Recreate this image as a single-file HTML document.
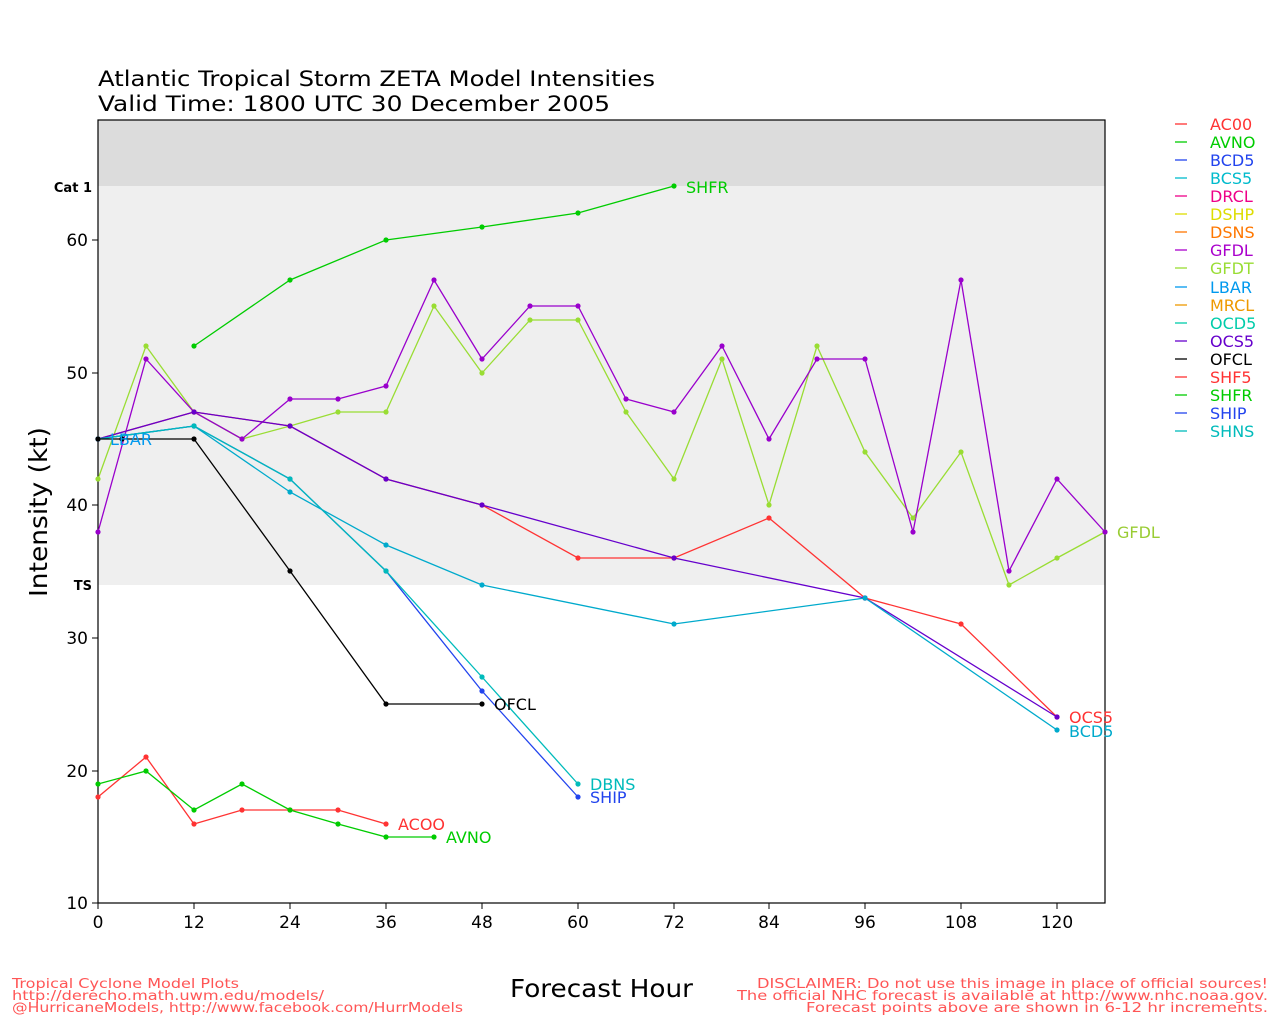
<!DOCTYPE html>
<html><head><style>body{margin:0;background:#fff}svg{display:block;font-family:"DejaVu Sans","Liberation Sans",sans-serif}</style></head><body>
<svg id="s" width="1280" height="1024" xmlns="http://www.w3.org/2000/svg">
<rect x="98" y="120" width="1007" height="783" fill="#efefef"/>
<rect x="98" y="120" width="1007" height="66" fill="#dcdcdc"/>
<rect x="98" y="585" width="1007" height="318" fill="#fff"/>
<rect x="98" y="120" width="1007" height="783" fill="none" stroke="#000" stroke-width="1.2"/>
<text x="98" y="86" font-size="21" textLength="557" lengthAdjust="spacingAndGlyphs">Atlantic Tropical Storm ZETA Model Intensities</text>
<text x="98" y="111" font-size="21" textLength="512" lengthAdjust="spacingAndGlyphs">Valid Time: 1800 UTC 30 December 2005</text>
<g font-size="13" font-weight="bold" text-anchor="end"><text x="92" y="192">Cat 1</text><text x="92" y="590">TS</text></g>
<g font-size="17" text-anchor="end">
<text x="88" y="909">10</text><text x="88" y="777">20</text><text x="88" y="644">30</text><text x="88" y="511">40</text><text x="88" y="379">50</text><text x="88" y="246">60</text></g>
<g stroke="#000"><line x1="92" y1="903" x2="98" y2="903"/><line x1="92" y1="771" x2="98" y2="771"/><line x1="92" y1="638" x2="98" y2="638"/><line x1="92" y1="505" x2="98" y2="505"/><line x1="92" y1="373" x2="98" y2="373"/><line x1="92" y1="240" x2="98" y2="240"/>
<line x1="98" y1="903" x2="98" y2="909"/><line x1="194" y1="903" x2="194" y2="909"/><line x1="290" y1="903" x2="290" y2="909"/><line x1="386" y1="903" x2="386" y2="909"/><line x1="482" y1="903" x2="482" y2="909"/><line x1="578" y1="903" x2="578" y2="909"/><line x1="674" y1="903" x2="674" y2="909"/><line x1="769" y1="903" x2="769" y2="909"/><line x1="865" y1="903" x2="865" y2="909"/><line x1="961" y1="903" x2="961" y2="909"/><line x1="1057" y1="903" x2="1057" y2="909"/></g>
<g font-size="17" text-anchor="middle">
<text x="98" y="928">0</text><text x="194" y="928">12</text><text x="290" y="928">24</text><text x="386" y="928">36</text><text x="482" y="928">48</text><text x="578" y="928">60</text><text x="674" y="928">72</text><text x="769" y="928">84</text><text x="865" y="928">96</text><text x="961" y="928">108</text><text x="1057" y="928">120</text></g>
<text x="510" y="997" font-size="25" textLength="183" lengthAdjust="spacingAndGlyphs">Forecast Hour</text>
<text transform="translate(47,597) rotate(-90)" font-size="25" textLength="170" lengthAdjust="spacingAndGlyphs">Intensity (kt)</text>
<g id="lines" fill="none" stroke-width="1.3">
<polyline stroke="#ff3333" points="98,797 146,757 194,824 242,810 290,810 338,810 386,824"/>
<polyline stroke="#00cc00" points="98,784 146,771 194,810 242,784 290,810 338,824 386,837 434,837"/>
<polyline stroke="#00cc00" points="194,346 290,280 386,240 482,227 578,213 674,186"/>
<polyline stroke="#99dd33" points="98,479 146,346 194,412 242,439 290,426 338,412 386,412 434,306 482,373 530,320 578,320 626,412 674,479 722,359 769,505 817,346 865,452 913,518 961,452 1009,585 1057,558 1105,532"/>
<polyline stroke="#9900cc" points="98,532 146,359 194,412 242,439 290,399 338,399 386,386 434,280 482,359 530,306 578,306 626,399 674,412 722,346 769,439 817,359 865,359 913,532 961,280 1009,571 1057,479 1105,532"/>
<polyline stroke="#ff3333" points="98,439 194,412 290,426 386,479 482,505 578,558 674,558 769,518 865,598 961,624 1057,717"/>
<polyline stroke="#6600cc" points="98,439 194,412 290,426 386,479 482,505 674,558 865,598 1057,717"/>
<polyline stroke="#00aacc" points="98,439 194,426 290,492 386,545 482,585 674,624 865,598 1057,730"/>
<polyline stroke="#2244ee" points="98,439 194,426 290,479 386,571 482,691 578,797"/>
<polyline stroke="#00bbbb" points="98,439 194,426 290,479 386,571 482,677 578,784"/>
<polyline stroke="#000" points="98,439 122,439 194,439 290,571 386,704 482,704"/>
</g>
<g id="dots"></g>
<g font-size="16">
<text x="398" y="830" fill="#ff3333">ACOO</text>
<text x="446" y="843" fill="#00cc00">AVNO</text>
<text x="686" y="193" fill="#00cc00">SHFR</text>
<text x="110" y="445" fill="#0099ee">LBAR</text>
<text x="494" y="710" fill="#000">OFCL</text>
<text x="590" y="790" fill="#00bbbb">DBNS</text>
<text x="590" y="803" fill="#2244ee">SHIP</text>
<text x="1069" y="723" fill="#ff3333">OCS5</text>
<text x="1069" y="737" fill="#00aacc">BCD5</text>
<text x="1117" y="538" fill="#99cc33">GFDL</text>
</g>
<g font-size="16" stroke-width="1.3">
<line x1="1175" y1="124" x2="1187" y2="124" stroke="#ff3333"/><text x="1210" y="130" fill="#ff3333">AC00</text>
<line x1="1175" y1="142" x2="1187" y2="142" stroke="#00cc00"/><text x="1210" y="148" fill="#00cc00">AVNO</text>
<line x1="1175" y1="160" x2="1187" y2="160" stroke="#2244ee"/><text x="1210" y="166" fill="#2244ee">BCD5</text>
<line x1="1175" y1="178" x2="1187" y2="178" stroke="#00bbcc"/><text x="1210" y="184" fill="#00bbcc">BCS5</text>
<line x1="1175" y1="196" x2="1187" y2="196" stroke="#ee0088"/><text x="1210" y="202" fill="#ee0088">DRCL</text>
<line x1="1175" y1="214" x2="1187" y2="214" stroke="#dddd00"/><text x="1210" y="220" fill="#dddd00">DSHP</text>
<line x1="1175" y1="232" x2="1187" y2="232" stroke="#ff7700"/><text x="1210" y="238" fill="#ff7700">DSNS</text>
<line x1="1175" y1="250" x2="1187" y2="250" stroke="#aa00cc"/><text x="1210" y="256" fill="#aa00cc">GFDL</text>
<line x1="1175" y1="268" x2="1187" y2="268" stroke="#99dd33"/><text x="1210" y="274" fill="#99dd33">GFDT</text>
<line x1="1175" y1="287" x2="1187" y2="287" stroke="#0099ee"/><text x="1210" y="293" fill="#0099ee">LBAR</text>
<line x1="1175" y1="305" x2="1187" y2="305" stroke="#ee9900"/><text x="1210" y="311" fill="#ee9900">MRCL</text>
<line x1="1175" y1="323" x2="1187" y2="323" stroke="#00ccaa"/><text x="1210" y="329" fill="#00ccaa">OCD5</text>
<line x1="1175" y1="341" x2="1187" y2="341" stroke="#6600cc"/><text x="1210" y="347" fill="#6600cc">OCS5</text>
<line x1="1175" y1="359" x2="1187" y2="359" stroke="#000"/><text x="1210" y="365" fill="#000">OFCL</text>
<line x1="1175" y1="377" x2="1187" y2="377" stroke="#ff3333"/><text x="1210" y="383" fill="#ff3333">SHF5</text>
<line x1="1175" y1="395" x2="1187" y2="395" stroke="#00cc00"/><text x="1210" y="401" fill="#00cc00">SHFR</text>
<line x1="1175" y1="413" x2="1187" y2="413" stroke="#2244ee"/><text x="1210" y="419" fill="#2244ee">SHIP</text>
<line x1="1175" y1="431" x2="1187" y2="431" stroke="#00bbbb"/><text x="1210" y="437" fill="#00bbbb">SHNS</text>
</g>
<g font-size="13" fill="#ff5555" lengthAdjust="spacingAndGlyphs">
<text x="12" y="988" textLength="227" lengthAdjust="spacingAndGlyphs">Tropical Cyclone Model Plots</text>
<text x="12" y="1000" textLength="312" lengthAdjust="spacingAndGlyphs">http://derecho.math.uwm.edu/models/</text>
<text x="12" y="1012" textLength="451" lengthAdjust="spacingAndGlyphs">@HurricaneModels, http://www.facebook.com/HurrModels</text>
<text x="757" y="988" textLength="511" lengthAdjust="spacingAndGlyphs">DISCLAIMER: Do not use this image in place of official sources!</text>
<text x="737" y="1000" textLength="531" lengthAdjust="spacingAndGlyphs">The official NHC forecast is available at http://www.nhc.noaa.gov.</text>
<text x="806" y="1012" textLength="462" lengthAdjust="spacingAndGlyphs">Forecast points above are shown in 6-12 hr increments.</text>
</g>
</svg>
<script>
var d=document.getElementById('dots'),ns='http://www.w3.org/2000/svg';
document.querySelectorAll('#lines polyline').forEach(function(p){var c=p.getAttribute('stroke');p.getAttribute('points').trim().split(/\s+/).forEach(function(q){var a=q.split(',');var e=document.createElementNS(ns,'circle');e.setAttribute('cx',a[0]);e.setAttribute('cy',a[1]);e.setAttribute('r','2.6');e.setAttribute('fill',c);d.appendChild(e);});});
</script>
</body></html>
